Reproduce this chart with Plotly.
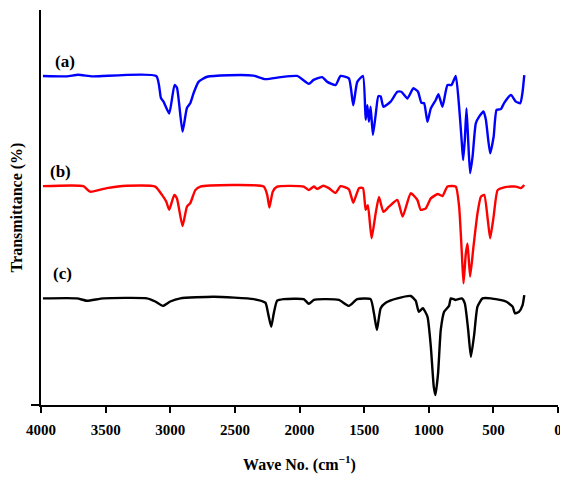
import plotly.graph_objects as go

# Spectrum (a)
wn_a = [3985, 3800, 3713, 3600, 3108, 3072, 3052, 3008, 2967, 2948, 2905, 2871, 2845, 2819, 2781, 2715,
        2550, 2357, 2264, 2147, 2018, 1928, 1891, 1824, 1785, 1721, 1682, 1618, 1584, 1553, 1509, 1488,
        1475, 1463, 1450, 1432, 1411, 1390, 1372, 1351, 1295, 1243, 1212, 1165, 1119, 1083, 1057, 1036,
        1010, 984, 946, 925, 894, 855, 824, 791, 765, 744, 734, 721, 708, 695, 680, 661, 636, 610, 576,
        558, 525, 498, 475, 442, 416, 364, 326, 292, 274, 261]
t_a = [83.3, 83.2, 83.6, 83.2, 83.3, 77.7, 76.8, 73.8, 81.0, 80.3, 69.2, 75.2, 76.4, 79.0, 81.8, 83.1,
       83.5, 83.4, 82.5, 83.0, 83.3, 81.3, 82.3, 83.0, 81.8, 81.0, 83.3, 82.7, 75.9, 81.8, 83.3, 72.2,
       75.9, 71.7, 75.5, 68.4, 73.4, 78.2, 78.1, 75.5, 76.8, 79.3, 79.3, 77.6, 80.2, 79.3, 76.5, 76.4,
       71.7, 75.1, 77.2, 78.7, 75.5, 81.0, 81.0, 83.3, 75.5, 66.3, 62.0, 67.1, 75.1, 67.1, 58.7, 62.9,
       71.3, 73.0, 74.3, 72.2, 63.7, 67.9, 74.7, 74.9, 76.5, 78.5, 76.8, 76.4, 79.3, 83.5]

# Spectrum (b)
wn_b = [3985, 3672, 3620, 3491, 3336, 3116, 3064, 3031, 3008, 2969, 2948, 2905, 2871, 2845, 2806, 2767,
        2277, 2250, 2233, 2207, 2173, 1967, 1928, 1889, 1863, 1816, 1773, 1721, 1682, 1618, 1584, 1540,
        1509, 1488, 1471, 1442, 1411, 1385, 1351, 1308, 1243, 1202, 1139, 1088, 1062, 1023, 984, 930,
        894, 855, 791, 765, 744, 731, 713, 700, 680, 654, 623, 597, 571, 543, 525, 498, 467, 416, 364,
        326, 287, 261]
t_b = [55.4, 55.4, 54.0, 54.9, 55.5, 55.3, 53.2, 51.5, 49.4, 53.2, 52.3, 45.3, 50.2, 51.1, 54.4, 55.3,
       55.3, 53.2, 50.0, 54.0, 55.3, 55.3, 54.4, 55.3, 54.7, 55.5, 54.9, 53.7, 55.4, 54.6, 51.2, 54.9,
       54.9, 49.4, 50.6, 42.2, 48.5, 52.7, 48.9, 50.2, 51.9, 47.7, 53.6, 51.9, 49.4, 49.8, 52.3, 53.4,
       52.9, 55.3, 55.3, 50.2, 38.4, 30.8, 38.4, 40.9, 32.5, 40.1, 48.5, 52.7, 53.2, 46.8, 42.2, 47.7,
       54.4, 55.1, 55.3, 55.3, 54.9, 55.7]

# Spectrum (c)
wn_c = [3985, 3723, 3646, 3517, 3181, 3116, 3057, 3000, 2922, 2664, 2354, 2264, 2243, 2219, 2199, 2173,
        2122, 1967, 1928, 1889, 1812, 1695, 1618, 1553, 1450, 1424, 1401, 1372, 1333, 1243, 1139, 1101,
        1077, 1046, 1010, 984, 961, 948, 928, 907, 881, 843, 829, 791, 744, 721, 695, 674, 649, 623, 584,
        519, 403, 351, 333, 302, 274, 261]
t_c = [27.0, 27.0, 26.4, 27.0, 27.0, 26.2, 25.1, 26.2, 27.0, 27.4, 26.8, 25.9, 23.2, 19.8, 23.2, 26.4,
       26.8, 26.8, 25.6, 26.6, 26.8, 26.6, 25.1, 26.8, 26.8, 23.2, 19.0, 24.5, 25.9, 27.0, 27.6, 26.4,
       23.6, 24.5, 22.4, 14.8, 4.6, 2.5, 8.0, 19.0, 23.6, 25.1, 27.0, 26.6, 27.0, 25.7, 19.0, 12.2, 17.7,
       24.9, 27.0, 27.0, 26.2, 24.9, 23.2, 23.6, 25.3, 27.8]

series_labels = ["(a)", "(b)", "(c)"]
label_x = [3814, 3853, 3837]
label_y = [86.9, 59.1, 33.2]
x_ticks = [4000, 3500, 3000, 2500, 2000, 1500, 1000, 500, 0]

FONT = "Liberation Serif, Times New Roman, serif"

fig = go.Figure()
for wn, t, col in [(wn_a, t_a, "#0000FF"), (wn_b, t_b, "#FF0000"), (wn_c, t_c, "#000000")]:
    fig.add_trace(go.Scatter(x=wn, y=t, mode="lines",
                             line=dict(color=col, width=2.4, shape="spline", smoothing=0.5),
                             showlegend=False, hoverinfo="skip"))

for lab, lx, ly in zip(series_labels, label_x, label_y):
    fig.add_annotation(x=lx, y=ly, text="<b>" + lab + "</b>", showarrow=False,
                       font=dict(family=FONT, size=17, color="black"))

# the page body adds an 8px offset; the figure size and margins compensate for it
fig.update_layout(
    width=560, height=469,
    margin=dict(l=33, r=10, t=2, b=72),
    paper_bgcolor="white", plot_bgcolor="white",
    font=dict(family=FONT, size=15, color="black"),
)
fig.update_xaxes(
    range=[4000, 0], tickvals=x_ticks, ticktext=["<b>%d</b>" % v for v in x_ticks],
    showline=True, linecolor="black", linewidth=2, ticks="outside", ticklen=6, tickwidth=2,
    tickcolor="black", showgrid=False, zeroline=False, automargin=False,
    ticklabelstandoff=4,
    tickfont=dict(family=FONT, size=15, color="black"),
    title=dict(text="<b>Wave No. (cm<sup>−1</sup>)</b>", font=dict(family=FONT, size=16), standoff=22),
)
fig.update_yaxes(
    range=[0, 100], tickvals=[0], ticktext=[""],
    showline=True, linecolor="black", linewidth=2, ticks="outside", ticklen=8, tickwidth=2,
    tickcolor="black", showgrid=False, zeroline=False, automargin=False,
    title=dict(text="<b>Transmittance (%)</b>", font=dict(family=FONT, size=16), standoff=2),
)

fig.write_html("out.html")
